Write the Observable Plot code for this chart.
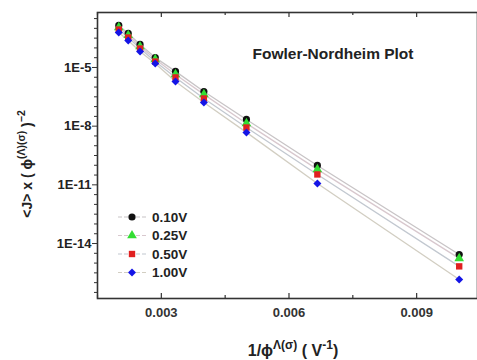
<!DOCTYPE html>
<html><head><meta charset="utf-8">
<script src="https://cdn.jsdelivr.net/npm/d3@7"></script>
<script src="https://cdn.jsdelivr.net/npm/@observablehq/plot@0.6"></script>
<style>
body{margin:0;background:#fff;}
#chart{position:relative;width:477px;height:360px;}
</style>
</head><body><div id="chart"></div>
<script>
const invPhi = [0.002, 0.002222, 0.0025, 0.002857, 0.003333, 0.004, 0.005, 0.006667, 0.01];
const seriesNames = ["0.10V", "0.25V", "0.50V", "1.00V"];
const v010 = [1.41e-3, 5.5e-4, 1.51e-4, 3.2e-5, 6.3e-6, 5.9e-7, 2.2e-8, 9.8e-11, 2.75e-15];
const v025 = [1.12e-3, 4.4e-4, 1.17e-4, 2.6e-5, 4.4e-6, 4.2e-7, 1.38e-8, 6.2e-11, 1.74e-15];
const v050 = [8.7e-4, 3.4e-4, 9.3e-5, 2.0e-5, 3.1e-6, 2.6e-7, 8.5e-9, 3.4e-11, 6.8e-16];
const v100 = [6.2e-4, 2.4e-4, 6.6e-5, 1.58e-5, 1.9e-6, 1.62e-7, 4.8e-9, 1.17e-11, 1.45e-16];
const xMajor = [0.003, 0.006, 0.009];
const xMinor = [0.0015, 0.0045, 0.0075, 0.0105];
const yMajor = [1e-5, 1e-8, 1e-11, 1e-14];
const yMinorExp = [-16.5, -16, -15.5, -15, -14.5, -13.5, -13, -12.5, -12, -11.5, -10.5, -10, -9.5, -9, -8.5, -7.5, -7, -6.5, -6, -5.5, -4.5, -4, -3.5, -3, -2.5];

const colors = ["#111111", "#33dd33", "#e02020", "#1414e6"];
const lineColors = ["#c8c4c6", "#d8c8ce", "#c2c8d0", "#d2cec2"];
const symbols = ["circle", "triangle", "square", "diamond2"];
const allSeries = [v010, v025, v050, v100];

const rows = [];
allSeries.forEach((vals, i) => vals.forEach((v, j) => rows.push({series: seriesNames[i], x: invPhi[j], y: v})));
const yMinor = yMinorExp.map(e => Math.pow(10, e));

const font = "'Liberation Sans', Arial, sans-serif";
const plot = Plot.plot({
  width: 477, height: 360,
  marginLeft: 97, marginRight: 0, marginTop: 12, marginBottom: 62,
  style: {fontFamily: font, background: "#fff", color: "#222"},
  x: {domain: [0.0015, 0.01043], axis: null},
  y: {type: "log", domain: [Math.pow(10, -16.81), Math.pow(10, -2.19)], axis: null},
  color: {domain: seriesNames, range: colors},
  symbol: {domain: seriesNames, range: symbols},
  marks: [
    ...seriesNames.map((s, i) => Plot.line(rows.filter(d => d.series === s), {x: "x", y: "y", stroke: lineColors[i], strokeWidth: 1.3})),
    Plot.dot(rows, {x: "x", y: "y", fill: "series", symbol: "series", r: 3.6, stroke: "none"}),
    Plot.axisY(yMinor, {tickSize: 3, tickFormat: () => "", label: null, stroke: "#333"}),
    Plot.axisY(yMajor, {tickSize: 5, tickPadding: 1, label: null, stroke: "#333",
      tickFormat: d => "1E" + Math.round(Math.log10(d)), fontWeight: "bold", fontSize: 13, fill: "#222"}),
    Plot.axisX(xMajor, {tickSize: 0, tickPadding: 9, label: null, tickFormat: d3.format(".3f"),
      fontWeight: "bold", fontSize: 13, fill: "#333"}),
    Plot.tickX(xMajor, {x: d => d, insetTop: 281, stroke: "#333", strokeWidth: 1.2}),
    Plot.tickX(xMajor, {x: d => d, insetBottom: 281, stroke: "#333", strokeWidth: 1.2}),
    Plot.tickX(xMinor, {x: d => d, insetTop: 283, stroke: "#333", strokeWidth: 1.2}),
    Plot.tickX(xMinor, {x: d => d, insetBottom: 283, stroke: "#333", strokeWidth: 1.2}),
    Plot.frame({stroke: "#333", strokeWidth: 1.6})
  ]
});
document.getElementById("chart").appendChild(plot);

const svg = d3.select(plot);
// Title
svg.append("text").attr("x", 333).attr("y", 59).attr("text-anchor", "middle")
  .attr("font-family", font).attr("font-weight", "bold").attr("font-size", 15.5).attr("fill", "#222")
  .text("Fowler-Nordheim Plot");

// Legend
const symMap = {circle: d3.symbolCircle, triangle: d3.symbolTriangle, square: d3.symbolSquare, diamond2: d3.symbolDiamond2};
const lg = svg.append("g").attr("transform", "translate(118,217)");
seriesNames.forEach((s, i) => {
  const g = lg.append("g").attr("transform", `translate(0,${i * 18.5})`);
  g.append("line").attr("x1", 0).attr("x2", 29).attr("y1", 0).attr("y2", 0)
    .attr("stroke", lineColors[i]).attr("stroke-width", 1.2).attr("stroke-dasharray", "4,2");
  g.append("path").attr("transform", "translate(14,0)")
    .attr("d", d3.symbol(symMap[symbols[i]], Math.PI * 3.6 * 3.6)())
    .attr("fill", colors[i]);
  g.append("text").attr("x", 34).attr("y", 0).attr("dy", "0.36em").attr("text-anchor", "start")
    .attr("font-family", font).attr("font-weight", "bold").attr("font-size", 13.5).attr("fill", "#222")
    .text(s);
});

// X label
const xl = svg.append("text").attr("x", 293).attr("y", 356).attr("text-anchor", "middle")
  .attr("font-family", font).attr("font-weight", "bold").attr("font-size", 16).attr("fill", "#222");
xl.append("tspan").text("1/\u03d5");
xl.append("tspan").attr("dy", -7).attr("font-size", 12).text("\u039b(\u03c3)");
xl.append("tspan").attr("dy", 7).text(" ( V");
xl.append("tspan").attr("dy", -7).attr("font-size", 12).text("-1");
xl.append("tspan").attr("dy", 7).text(")");

// Y label
const yl = svg.append("text").attr("transform", "translate(32,164) rotate(-90)").attr("text-anchor", "middle")
  .attr("font-family", font).attr("font-weight", "bold").attr("font-size", 14).attr("fill", "#222");
yl.append("tspan").text("<J> x ( \u03d5");
yl.append("tspan").attr("dy", -7).attr("font-size", 10.5).text("(\u039b)(\u03c3)");
yl.append("tspan").attr("dy", 7).text(" )");
yl.append("tspan").attr("dy", -7).attr("font-size", 10.5).text("\u22122");
</script>
</body></html>
